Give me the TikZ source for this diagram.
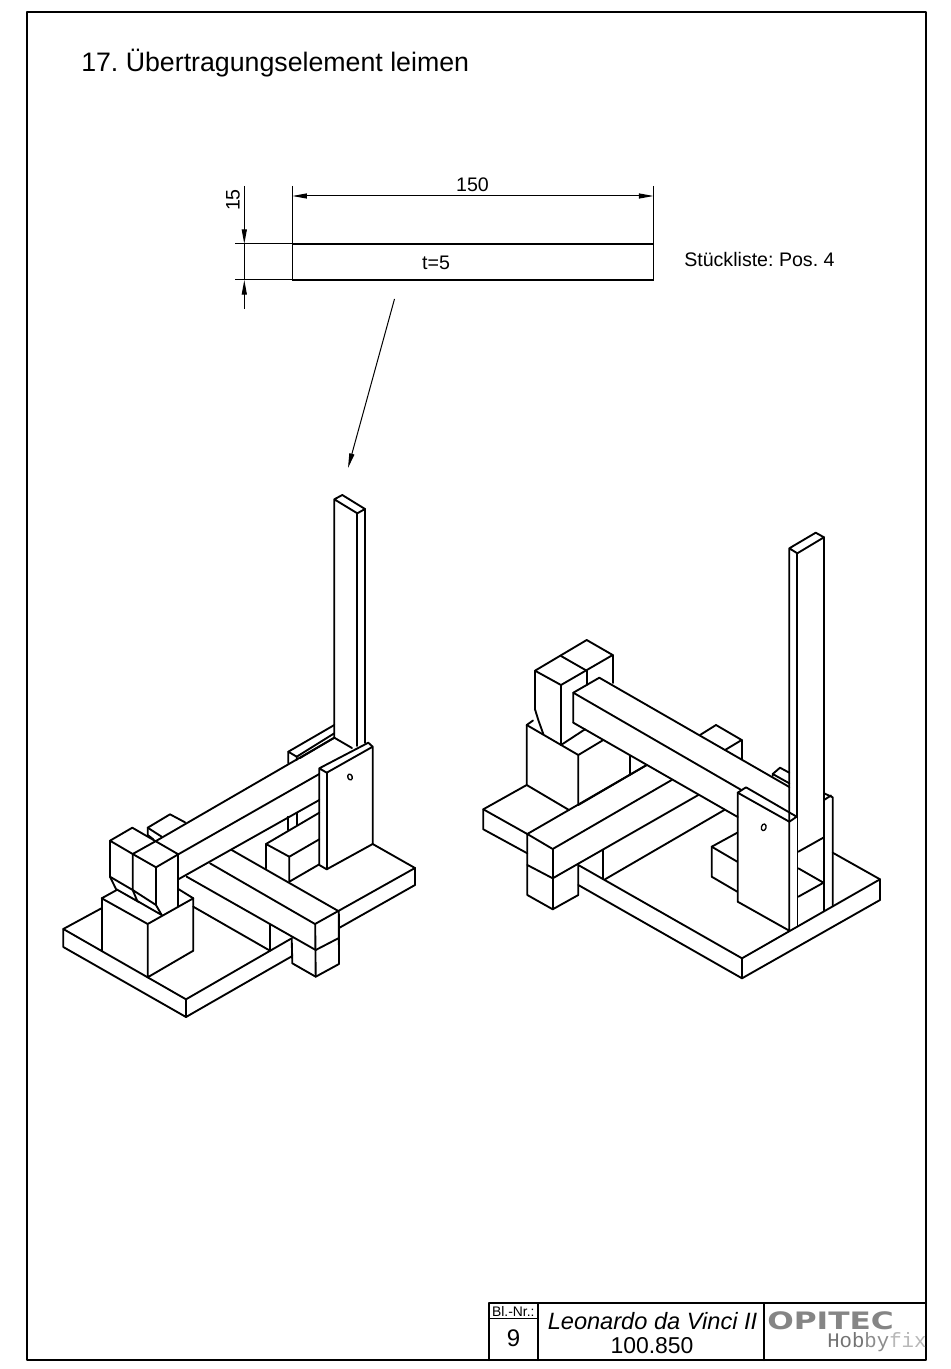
\documentclass[tikz,border=0pt]{standalone}
\usepackage{fontspec}
\setmainfont{Liberation Sans}
\newfontfamily\logomono{Liberation Mono}
\newfontfamily\logobold{DejaVu Sans}
\frenchspacing
\usetikzlibrary{arrows.meta}
\tikzset{
  x=0.75pt,y=-0.75pt,
  frameline/.style={line width=1.5pt,line cap=round,line join=round},
  model/.style={line width=1.4pt,line cap=round,line join=round},
  thinline/.style={line width=0.75pt},
  partline/.style={line width=1.2pt,line join=miter},
  tiparrow/.style={-{Triangle[length=11pt,width=3.8pt]},line width=0.75pt},
  lbl/.style={inner sep=0pt,font=\fontsize{14.7}{17}\selectfont},
}
\begin{document}
\begin{tikzpicture}
\useasboundingbox (0,0) rectangle (950,1369);
\fill[white] (0,0) rectangle (950,1369);
% frame
\draw[frameline] (27,12) rectangle (926,1360);
\draw[frameline] (489,1360) -- (489,1303) -- (926,1303);
\draw[frameline] (537.7,1303) -- (537.7,1360);
\draw[frameline] (764,1303) -- (764,1360);
\draw[thinline] (489,1318.3) -- (537.7,1318.3);
% title
\node[inner sep=0pt,anchor=west,font=\fontsize{20.05}{24}\selectfont] (title) at (81,63) {17. Übertragungselement leimen};
% part
\draw[thinline] (292.3,186) -- (292.3,244);
\draw[thinline] (653.5,186) -- (653.5,244);
\draw[thinline] (235,244) -- (292.3,244);
\draw[thinline] (235,280) -- (292.3,280);
\draw[partline] (292.5,244) rectangle (653.5,280);
\node[lbl] (tlabel) at (436,263) {t=5};
\node[lbl] (len) at (472.5,185) {150};
\node[lbl,rotate=90] (wid) at (233,200) {15};
\node[lbl,anchor=west] (parts) at (684,259.5) {Stückliste: Pos. 4};
\coordinate (dl) at (292.3,196); \coordinate (dr) at (653.5,196);
\draw[tiparrow,{Triangle[length=11pt,width=3.8pt]}-{Triangle[length=11pt,width=3.8pt]}] (dl) -- (dr);
\coordinate (va) at (244.3,186); \coordinate (vb) at (244.3,244);
\coordinate (vc) at (244.3,309); \coordinate (vd) at (244.3,280);
\draw[tiparrow] (va) -- (vb);
\draw[tiparrow] (vc) -- (vd);
\draw[thinline] (vb) -- (vd);
\coordinate (pa) at (394.5,299); \coordinate (pb) at (348,468);
\draw[tiparrow] (pa) -- (pb);

% ===== left model
\begin{scope}[model]
% base plate
\draw (102,908) -- (63.3,929) -- (63.3,947) -- (186,1017) -- (292.3,956);
\draw (63.3,929) -- (186,999.3) -- (291.7,938.3);
\draw (186,999.3) -- (186,1017);
\draw (338.3,911) -- (415,868) -- (415,885) -- (339,928);
\draw (415,868) -- (372.7,844);
% pedestal
\draw (101.7,898.3) -- (101.7,950.7);
\draw (147.7,924) -- (147.7,977.3) -- (193.3,950.7) -- (193.3,898.3) -- (147.7,924) -- (101.7,898.3) -- (116.7,890);
\draw (193.3,898.3) -- (178.3,889);
% twin blocks
\draw (110,840.7) -- (132.3,827.7) -- (178.3,854.3) -- (156,867.3) -- (132.7,854) -- (110,840.7);
\draw (132.7,854) -- (156,841);
\draw (110,840.7) -- (110,876.7) -- (132.7,890);
\draw (110,876.7) -- (116,889) -- (139.3,902.3);
\draw (132.7,854) -- (132.7,890) -- (156,905);
\draw (132.7,890) -- (137.3,901) -- (161.7,915);
\draw (156,867.3) -- (156,905) -- (161.7,915);
\draw (178.3,854.3) -- (178.3,906.7);
% block behind
\draw (153.3,839.3) -- (147.7,835) -- (147.7,827.7) -- (170,814.3) -- (185,822.3);
\draw (147.7,827.7) -- (161.7,836.7);
% long beam
\draw (156,841) -- (334.3,737.7) -- (352,748);
\draw (178.3,854.3) -- (319.3,774);
\draw (178.3,879.3) -- (319.3,800);
% tower
\draw (334.3,737.7) -- (334.3,499.3) -- (342.3,495) -- (365,509) -- (357.3,513.3) -- (334.3,499.3);
\draw (357.3,513.3) -- (357.3,746);
\draw (365,509) -- (365,743);
% upright plate
\draw (319.3,768.3) -- (368.3,742.7) -- (372.7,746.7) -- (326.7,772.7) -- (319.3,768.3) -- (319.3,865) -- (326.7,869.3) -- (372.7,844) -- (372.7,746.7);
\draw (326.7,772.7) -- (326.7,869.3);
\draw[line width=1pt,rotate around={20:(350,777)}] (350,777) ellipse [x radius=2.2,y radius=3];
% parts behind tower
\draw (288.3,763.3) -- (288.3,751.7) -- (334.3,725);
\draw (288.3,751.7) -- (296.7,756.7) -- (296.7,760);
\draw (296.7,756.7) -- (334.3,733.3);
\draw (300,758) -- (334.3,737.7);
% small block
\draw (319.3,812.7) -- (266,844) -- (289.3,856.7) -- (319.3,839.3);
\draw (266,844) -- (266,868.3);
\draw (289.3,856.7) -- (289.3,881.7) -- (319.3,864.3);
\draw (288.3,816.7) -- (288.3,830);
\draw (296.7,812.7) -- (296.7,825.5);
% cross beam
\draw (231.7,850) -- (338.3,911) -- (315,924) -- (210,863.3);
\draw (186.7,876.7) -- (315.7,950) -- (338.3,938.3);
\draw (193.3,906.7) -- (270,950.7) -- (270,924.3);
\draw (338.8,911) -- (339,964) -- (315.7,976.7) -- (292.3,963.3) -- (291.7,938.3);
\draw (315.2,924) -- (315.7,976.7);
\end{scope}

% ===== right model
\begin{scope}[model]
% base plate
\draw (526.7,785) -- (483.3,809.3) -- (483.3,829.3) -- (527.3,853.3);
\draw (483.3,809.3) -- (527.3,834);
\draw (578.3,865) -- (742,958.3) -- (880,879.3) -- (880,900) -- (742,978.3) -- (578.3,885);
\draw (742,958.3) -- (742,978.3);
\draw (880,879.3) -- (832.7,852.7);
% pedestal
\draw (526.7,725) -- (526.7,785) -- (569,810);
\draw (526.7,725) -- (533,720.5);
\draw (526.7,725) -- (578.3,755) -- (578.3,805);
\draw (578.3,755) -- (603.3,740);
\draw (561,745) -- (585,729.3);
% twin blocks
\draw (535,670.7) -- (586.7,640) -- (612.7,655) -- (561,685) -- (535,670.7);
\draw (561,656) -- (586.7,670.7);
\draw (535,670.7) -- (535,709.3) -- (538.3,720) -- (543.3,734);
\draw (561,685) -- (561,745);
\draw (586.7,670.7) -- (586.7,685);
\draw (612.7,655) -- (612.7,683);
% long beam
\draw (573.3,722.7) -- (573.3,692.7) -- (599.3,677.7) -- (789.3,787);
\draw (573.3,692.7) -- (741,789.8);
\draw (573.3,722.7) -- (737.7,817);
% behind beam
\draw (700,735) -- (716,725) -- (741.7,740) -- (725,750);
\draw (741.7,740) -- (741.7,759.3);
\draw (772.7,776) -- (772.7,774) -- (780,767.7) -- (789.3,772.7);
\draw (772.7,774) -- (789.3,783.3);
% tower
\draw (789.3,821.7) -- (789.3,548.3) -- (815.7,532.7) -- (824,537.3) -- (797.3,553.3) -- (789.3,548.3);
\draw (797.3,553.3) -- (797.3,817);
\draw (824,537.3) -- (824,911);
\draw (824,793.3) -- (832.7,797.3) -- (832.7,906);
\draw (824,800) -- (831,795.5);
% upright plate
\draw (746,787.3) -- (737.7,792.7) -- (789.3,821.7) -- (796.7,816.7) -- (746,787.3);
\draw (737.7,792.7) -- (737.7,901.7) -- (789.3,930.7) -- (789.3,821.7);
\draw (797.5,817) -- (797.5,926.5);
\draw[line width=1pt,rotate around={-15:(763.7,827.3)}] (763.7,827.3) ellipse [x radius=2.3,y radius=3.4];
% front beam
\draw (527.3,834) -- (646.7,765);
\draw (578.3,805) -- (646.7,765);
\draw (527.3,834) -- (552.7,849) -- (671.7,780);
\draw (552.7,878.3) -- (698.3,795);
\draw (527.3,834) -- (527.3,895) -- (552.7,909.3) -- (578.3,895) -- (578.3,865);
\draw (552.7,849) -- (552.7,909.3);
\draw (527.3,865) -- (552.7,878.3);
\draw (605,879.3) -- (724.3,810);
\draw (603.3,850) -- (603.3,879);
\draw (630,756) -- (630,775);
% small block
\draw (737.3,832.7) -- (711.7,846.7) -- (711.7,876.7) -- (737.3,891.7);
\draw (711.7,846.7) -- (737.3,861.7);
\draw (798.3,851.7) -- (824,837.3);
\draw (798.3,868.3) -- (823.5,882.7) -- (798.3,896.7);
\end{scope}

% ===== title block text
\node[inner sep=0pt,font=\fontsize{10.4}{12}\selectfont] (blnr) at (513.3,1311) {Bl.-Nr.:};
\node[inner sep=0pt,font=\fontsize{18}{20}\selectfont] (blno) at (513.5,1338) {9};
\node[inner sep=0pt,font=\fontsize{17.7}{20}\selectfont\itshape] (name) at (652.5,1321) {Leonardo da Vinci II};
\node[inner sep=0pt,font=\fontsize{17.2}{20}\selectfont] (num) at (652,1346) {100.850};
\node[inner sep=0pt,text=black!48,anchor=west] (logo) at (767,1321) {\fontsize{18}{20}\logobold\bfseries\selectfont\scalebox{1.3}[1]{OPITEC}};
\node[inner sep=0pt,anchor=west,font=\fontsize{15.5}{18}\logomono\selectfont] (hobby) at (827,1342) {\textcolor{black!55}{Hob}\textcolor{black!45}{by}\textcolor{black!28}{fix}};
\end{tikzpicture}
\end{document}
